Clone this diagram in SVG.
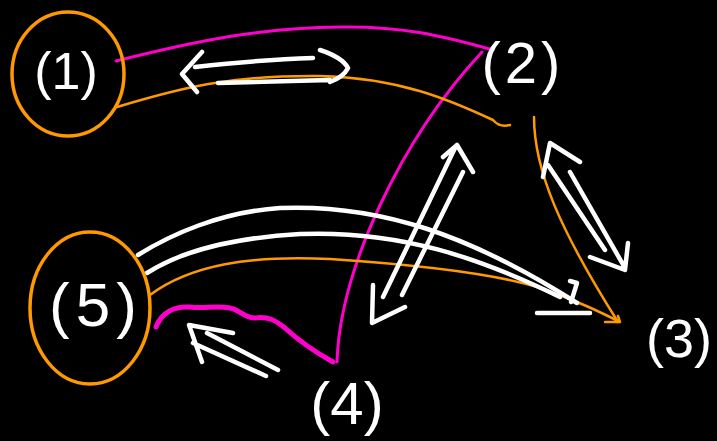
<svg xmlns="http://www.w3.org/2000/svg" width="717" height="441" viewBox="0 0 717 441">
<style>
.bg{fill:#000}
.ring{fill:none;stroke:#ff9900;stroke-width:3.5}
.lbl{fill:#fff;font-family:"Liberation Sans",Arial,sans-serif;text-anchor:middle}
.mag{fill:none;stroke:#ff00cc;stroke-width:3;stroke-linecap:round;stroke-linejoin:round}
.org{fill:none;stroke:#ff9900;stroke-width:2.5;stroke-linecap:round;stroke-linejoin:round}
.wht{fill:none;stroke:#fff;stroke-width:4.5;stroke-linecap:round;stroke-linejoin:round}
</style>
<rect class="bg" x="0" y="0" width="717" height="441"/>
<g id="connectors">
  <path class="mag" d="M116,61 C200,40 260,28 340,27 C400,26 440,35 493,50"/>
  <path class="mag" d="M337,362 C340,270 400,140 482,52"/>
  <path class="mag" style="stroke-width:5" d="M156,327 C162,312 175,306 190,307 C205,309 215,305 230,308 C240,310 245,318 255,318 C268,316 275,320 285,328 C298,340 315,352 333,362"/>
  <path class="org" d="M117,107 C180,88 230,75 320,76 C400,78 450,100 493,120 Q500,128 510,125"/>
  <path class="org" d="M534,117 C534,170 560,230 618,322"/>
  <path class="org" d="M150,295 C190,265 250,255 330,259 C420,265 500,275 540,288 C580,302 600,312 620,322 M605,322 L620,322 L618,316"/>
  <path class="wht" d="M195,67 C240,62 280,59 313,58 M202,52 L182,74 L197,92 M218,83 C260,82 300,81 330,80 M320,50 C335,55 345,62 348,68 C345,74 338,79 330,82"/>
  <path class="wht" d="M455,148 L383,297 M463,172 L402,295 M443,157 L457,145 L473,172 M373,285 L372,323 L405,307"/>
  <path class="wht" d="M548,165 L605,250 M570,172 L625,268 M543,177 L550,143 L580,162 M590,257 L625,270 L628,243"/>
  <path class="wht" d="M138,255 C170,235 220,212 280,208 C380,204 470,235 577,303"/>
  <path class="wht" d="M147,273 C180,252 230,238 300,234 C400,230 480,258 560,297"/>
  <path class="wht" d="M537,313 L590,313 M570,281 L577,283 L571,302"/>
  <path class="wht" d="M207,333 L278,370 M193,343 L266,376 M233,333 L189,325 L202,362"/>
</g>
<g id="node-1">
  <ellipse class="ring" cx="68" cy="74" rx="56" ry="62"/>
  <text class="lbl" x="66" y="89" font-size="52">(1)</text>
</g>
<g id="node-2">
  <text class="lbl" x="523" y="83" font-size="58" letter-spacing="4">(2)</text>
</g>
<g id="node-3">
  <text class="lbl" x="679" y="357" font-size="54">(3)</text>
</g>
<g id="node-4">
  <text class="lbl" x="347" y="424" font-size="60">(4)</text>
</g>
<g id="node-5">
  <ellipse class="ring" cx="90" cy="308" rx="60" ry="76"/>
  <text class="lbl" x="96" y="326" font-size="62" letter-spacing="6">(5)</text>
</g>
</svg>
